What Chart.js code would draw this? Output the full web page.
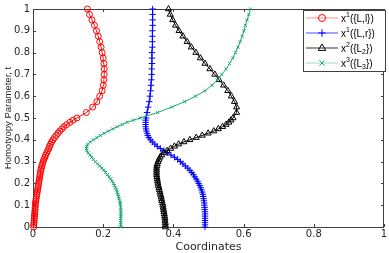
<!DOCTYPE html>
<html>
<head>
<meta charset="utf-8">
<script src="https://cdn.jsdelivr.net/npm/chart.js@4"></script>
<style>
  html, body { margin: 0; padding: 0; background: #fff; }
</style>
</head>
<body>
<canvas id="grafico" width="389" height="253"></canvas>
<script>
// parametro de homotopia t (eixo y)
const tValues = [
  0, 0.01, 0.02, 0.03, 0.04, 0.05, 0.06, 0.07, 0.08, 0.09, 0.10,
  0.11, 0.12, 0.13, 0.14, 0.15, 0.16, 0.17, 0.18, 0.19, 0.20,
  0.21, 0.22, 0.23, 0.24, 0.25, 0.26, 0.27, 0.28, 0.29, 0.30,
  0.31, 0.32, 0.33, 0.34, 0.35, 0.36, 0.37, 0.38, 0.39, 0.40,
  0.41, 0.42, 0.43, 0.44, 0.45, 0.46, 0.47, 0.48, 0.49, 0.50,
  0.525, 0.55, 0.575, 0.60, 0.625, 0.65, 0.675, 0.70, 0.725, 0.75,
  0.775, 0.80, 0.825, 0.85, 0.875, 0.90, 0.925, 0.95, 0.975, 1.0
]

// coordenadas de cada caminho
const x1Ll = [
  0.002, 0.002, 0.003, 0.003, 0.004, 0.004, 0.005, 0.005, 0.006, 0.006, 0.007,
  0.007, 0.008, 0.009, 0.010, 0.011, 0.012, 0.013, 0.014, 0.015, 0.016,
  0.017, 0.018, 0.019, 0.020, 0.021, 0.022, 0.024, 0.025, 0.027, 0.029,
  0.031, 0.034, 0.036, 0.039, 0.042, 0.045, 0.047, 0.050, 0.053, 0.057,
  0.061, 0.066, 0.071, 0.076, 0.082, 0.088, 0.096, 0.105, 0.114, 0.125,
  0.152, 0.170, 0.182, 0.190, 0.197, 0.200, 0.202, 0.203, 0.203, 0.202,
  0.200, 0.197, 0.194, 0.190, 0.186, 0.181, 0.175, 0.168, 0.161, 0.155
]
const x1Lr = [
  0.490, 0.490, 0.490, 0.490, 0.490, 0.490, 0.490, 0.490, 0.489, 0.489, 0.488,
  0.488, 0.487, 0.486, 0.485, 0.484, 0.482, 0.480, 0.478, 0.475, 0.472,
  0.469, 0.465, 0.461, 0.457, 0.452, 0.447, 0.441, 0.434, 0.427, 0.420,
  0.412, 0.403, 0.393, 0.383, 0.373, 0.363, 0.354, 0.347, 0.340, 0.335,
  0.330, 0.327, 0.325, 0.323, 0.322, 0.321, 0.321, 0.321, 0.321, 0.322,
  0.325, 0.328, 0.331, 0.333, 0.335, 0.336, 0.337, 0.338, 0.338, 0.339,
  0.339, 0.339, 0.340, 0.340, 0.340, 0.340, 0.341, 0.341, 0.341, 0.341
]
const x2L2 = [
  0.377, 0.377, 0.377, 0.376, 0.376, 0.375, 0.374, 0.373, 0.372, 0.371, 0.370,
  0.369, 0.367, 0.366, 0.365, 0.363, 0.362, 0.360, 0.359, 0.357, 0.356,
  0.355, 0.354, 0.353, 0.352, 0.352, 0.352, 0.352, 0.353, 0.354, 0.356,
  0.359, 0.362, 0.367, 0.373, 0.382, 0.392, 0.403, 0.415, 0.430, 0.447,
  0.465, 0.482, 0.499, 0.515, 0.528, 0.540, 0.550, 0.558, 0.564, 0.570,
  0.580, 0.580, 0.574, 0.565, 0.555, 0.543, 0.530, 0.518, 0.504, 0.490,
  0.477, 0.464, 0.451, 0.439, 0.427, 0.416, 0.406, 0.398, 0.391, 0.386
]
const x3L3 = [
  0.250, 0.250, 0.250, 0.250, 0.250, 0.250, 0.250, 0.250, 0.250, 0.250, 0.249,
  0.248, 0.247, 0.245, 0.244, 0.242, 0.240, 0.238, 0.235, 0.232, 0.229,
  0.225, 0.221, 0.217, 0.212, 0.207, 0.202, 0.196, 0.190, 0.184, 0.178,
  0.172, 0.167, 0.162, 0.157, 0.153, 0.152, 0.153, 0.156, 0.163, 0.172,
  0.182, 0.192, 0.203, 0.215, 0.227, 0.240, 0.254, 0.268, 0.286, 0.305,
  0.355, 0.395, 0.432, 0.463, 0.490, 0.510, 0.525, 0.538, 0.550, 0.560,
  0.569, 0.577, 0.584, 0.590, 0.596, 0.601, 0.605, 0.610, 0.615, 0.620
]

// legenda: ^ = sobrescrito, _ = subscrito (vale para o caractere seguinte)
const nomesSeries = ['x^1({L,l})', 'x^1({L,r})', 'x^2({L_2})', 'x^3({L_3})']
const xTicks = [0, 0.2, 0.4, 0.6, 0.8, 1]
const yTicks = [0, 0.1, 0.2, 0.3, 0.4, 0.5, 0.6, 0.7, 0.8, 0.9, 1]

const fonte = "'Liberation Sans', Arial, Helvetica, sans-serif"
const fonteLarga = "'DejaVu Sans', sans-serif"
const corEixo = '#404040'
const corTexto = '#262626'

function pontos(xs) {
    return xs.map((x, i) => ({ x: x, y: tValues[i] }))
}

const series = [
    { dados: x1Ll, cor: '#ff0000', corLegenda: 'rgba(255,0,0,0.45)', estilo: 'circle', raio: 3 },
    { dados: x1Lr, cor: '#0000ff', corLegenda: 'rgba(0,0,255,0.7)', estilo: 'cross', raio: 3.2 },
    { dados: x2L2, cor: '#000000', corLegenda: 'rgba(0,0,0,0.8)', estilo: 'triangle', raio: 3.5 },
    { dados: x3L3, cor: '#1fa878', corLegenda: 'rgba(31,168,120,0.45)', estilo: 'crossRot', raio: 2.2 }
]

function desenharMarcador(ctx, estilo, x, y, r) {
    ctx.beginPath()
    if (estilo === 'circle') {
        ctx.arc(x, y, r, 0, Math.PI * 2)
    } else if (estilo === 'cross') {
        ctx.moveTo(x - r, y); ctx.lineTo(x + r, y)
        ctx.moveTo(x, y - r); ctx.lineTo(x, y + r)
    } else if (estilo === 'triangle') {
        ctx.moveTo(x, y - r)
        ctx.lineTo(x + r * 0.95, y + r * 0.6)
        ctx.lineTo(x - r * 0.95, y + r * 0.6)
        ctx.closePath()
    } else {
        ctx.moveTo(x - r, y - r); ctx.lineTo(x + r, y + r)
        ctx.moveTo(x + r, y - r); ctx.lineTo(x - r, y + r)
    }
    ctx.stroke()
}

function desenharRotulo(ctx, texto, x, y) {
    let pos = x
    for (let i = 0; i < texto.length; i++) {
        let c = texto[i]
        let dy = 0
        let tam = 10
        if (c === '^' || c === '_') {
            dy = c === '^' ? -4 : 3
            tam = 7
            i++
            c = texto[i]
        }
        ctx.font = tam + 'px ' + fonte
        ctx.fillText(c, pos, y + dy)
        pos += ctx.measureText(c).width
    }
}

// moldura estilo matlab com ticks para dentro
const moldura = {
    id: 'moldura',
    beforeDatasetsDraw(chart) {
        const { ctx, chartArea: a, scales } = chart
        ctx.save()
        ctx.strokeStyle = corEixo
        ctx.lineWidth = 1
        ctx.strokeRect(a.left + 0.5, a.top + 0.5, a.right - a.left - 1, a.bottom - a.top)
        ctx.beginPath()
        xTicks.forEach(v => {
            const px = Math.round(scales.x.getPixelForValue(v)) + 0.5
            ctx.moveTo(px, a.bottom); ctx.lineTo(px, a.bottom - 3)
            ctx.moveTo(px, a.top); ctx.lineTo(px, a.top + 3)
        })
        yTicks.forEach(v => {
            const py = Math.round(scales.y.getPixelForValue(v)) + 0.5
            ctx.moveTo(a.left, py); ctx.lineTo(a.left + 3, py)
            ctx.moveTo(a.right, py); ctx.lineTo(a.right - 3, py)
        })
        ctx.stroke()
        ctx.restore()
    },
    afterDraw(chart) {
        const ctx = chart.ctx
        const x0 = 303, y0 = 10, w = 82, h = 61
        ctx.save()
        ctx.fillStyle = '#fff'
        ctx.fillRect(x0, y0, w, h)
        ctx.strokeStyle = corEixo
        ctx.lineWidth = 1
        ctx.strokeRect(x0 + 0.5, y0 + 0.5, w, h)
        series.forEach((s, i) => {
            const yl = y0 + 8 + i * 15
            ctx.strokeStyle = s.corLegenda
            ctx.beginPath()
            ctx.moveTo(x0 + 3, yl); ctx.lineTo(x0 + 35, yl)
            ctx.stroke()
            ctx.strokeStyle = s.cor
            desenharMarcador(ctx, s.estilo, x0 + 19, yl, s.raio + 0.5)
            ctx.fillStyle = '#000'
            ctx.textBaseline = 'middle'
            desenharRotulo(ctx, nomesSeries[i], x0 + 38, yl + 1)
        })
        ctx.restore()
    }
}

const ctx = document.getElementById('grafico').getContext('2d')

new Chart(ctx, {
    type: 'scatter',
    data: {
        datasets: series.map((s, i) => ({
            label: nomesSeries[i],
            data: pontos(s.dados),
            showLine: true,
            borderColor: s.cor,
            borderWidth: 1,
            pointStyle: s.estilo,
            pointRadius: s.raio,
            pointBorderColor: s.cor,
            pointBackgroundColor: 'rgba(0,0,0,0)',
            pointBorderWidth: 1,
            clip: false,
            order: series.length - i
        }))
    },
    options: {
        responsive: false,
        animation: false,
        layout: { padding: { top: 3, right: 1, left: 0, bottom: 0 } },
        scales: {
            x: {
                type: 'linear',
                min: 0,
                max: 1,
                afterFit: s => { s.height = 26 },
                afterBuildTicks: s => { s.ticks = xTicks.map(v => ({ value: v })) },
                grid: { display: false, drawTicks: false },
                border: { display: false },
                ticks: {
                    padding: 1,
                    color: corTexto,
                    font: { family: fonteLarga, size: 10 },
                    callback: v => String(+v.toFixed(1))
                },
                title: {
                    display: true,
                    text: 'Coordinates',
                    color: corTexto,
                    font: { family: fonteLarga, size: 11, lineHeight: 1 },
                    padding: { top: 0, bottom: 0 }
                }
            },
            y: {
                type: 'linear',
                min: 0,
                max: 1,
                afterFit: s => { s.width = 33 },
                afterBuildTicks: s => { s.ticks = yTicks.map(v => ({ value: v })) },
                grid: { display: false, drawTicks: false },
                border: { display: false },
                ticks: {
                    padding: 3,
                    color: corTexto,
                    font: { family: fonteLarga, size: 10 },
                    callback: v => String(+v.toFixed(1))
                },
                title: {
                    display: true,
                    text: 'Homotyopy Parameter, t',
                    color: corTexto,
                    font: { family: fonte, size: 9.5 },
                    padding: { top: 3, bottom: 0 }
                }
            }
        },
        plugins: {
            legend: { display: false },
            tooltip: { enabled: false }
        }
    },
    plugins: [moldura]
})
</script>
</body>
</html>
